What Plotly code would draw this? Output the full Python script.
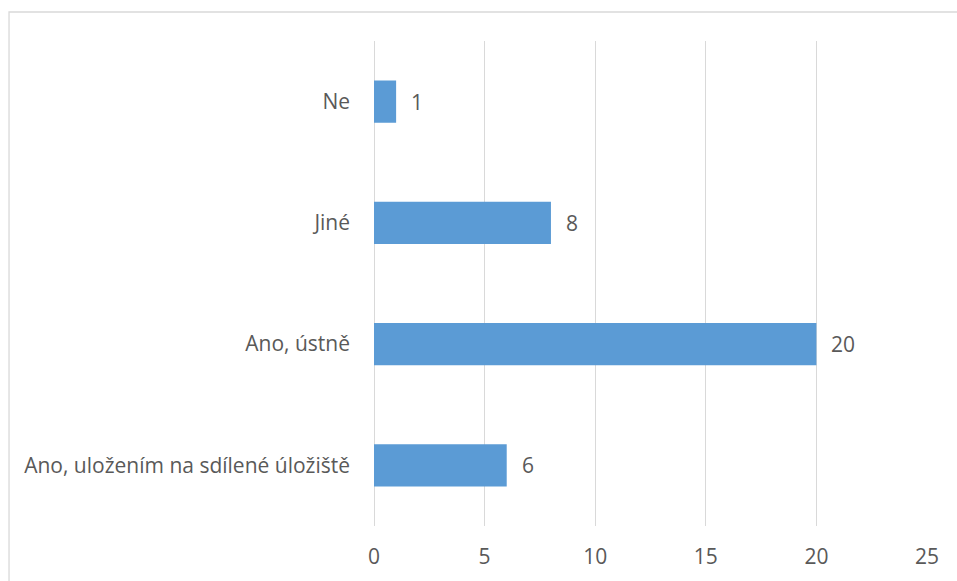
import plotly.graph_objects as go

categories = ["Ano, uložením na sdílené úložiště", "Ano, ústně", "Jiné", "Ne"]
values = [6, 20, 8, 1]
x_ticks = [0, 5, 10, 15, 20, 25]

FONT = "Open Sans"
TXT = "#595959"
FS = 21

fig = go.Figure(go.Bar(
    y=categories, x=values, orientation="h",
    marker=dict(color="#5b9bd5", line=dict(width=0)),
    width=0.35,
    hoverinfo="x+y",
))

for c, v in zip(categories, values):
    fig.add_annotation(x=v, y=c, text=str(v), showarrow=False,
                       xanchor="left", xshift=13,
                       font=dict(family=FONT, size=FS, color=TXT))

fig.update_layout(
    width=957, height=581,
    margin=dict(l=374, r=30, t=41, b=55),
    plot_bgcolor="white", paper_bgcolor="white",
    showlegend=False,
    font=dict(family=FONT, size=FS, color=TXT),
    xaxis=dict(range=[0, 25], tickvals=x_ticks, showgrid=True, gridcolor="#d9d9d9",
               gridwidth=1, zeroline=True, zerolinecolor="#d9d9d9", zerolinewidth=1,
               showline=False, ticks="", ticklabelstandoff=16,
               tickfont=dict(family=FONT, size=FS, color=TXT), fixedrange=True),
    yaxis=dict(categoryorder="array", categoryarray=categories, showgrid=False,
               zeroline=False, showline=False, ticks="", ticklabelstandoff=23,
               tickfont=dict(family=FONT, size=FS, color=TXT), fixedrange=True),
    shapes=[dict(type="rect", xref="paper", yref="paper",
                 x0=-0.66, x1=1.06, y0=-0.2, y1=1.0598,
                 line=dict(color="#d9d9d9", width=1.3), fillcolor="rgba(0,0,0,0)",
                 layer="below")],
)

fig.write_html("out.html")
